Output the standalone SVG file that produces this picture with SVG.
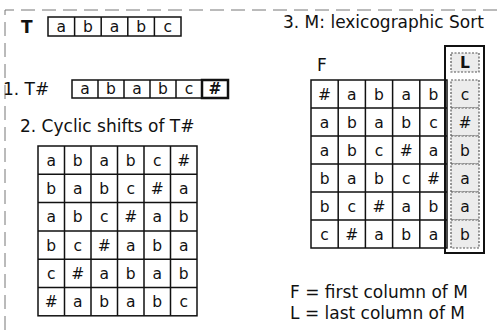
<svg xmlns="http://www.w3.org/2000/svg" width="502" height="330" viewBox="0 0 502 330">
<style>
.c{fill:#fff;stroke:#111;stroke-width:1.5}
.lc{fill:#ececec;stroke:#555;stroke-width:1.2;stroke-dasharray:2 1.5}
.t{font-family:"DejaVu Sans",Verdana,sans-serif;font-size:15.5px;text-anchor:middle;fill:#111}
.h{font-family:"DejaVu Sans",Verdana,sans-serif;font-size:17px;fill:#111}
.b{font-weight:bold}
.frame{fill:none;stroke:#777;stroke-width:1;stroke-dasharray:14 7}
</style>
<path class="frame" d="M5 330 V10 H502"/>
<g id="T">
  <text class="h b" x="21" y="33" font-size="16">T</text>
  <rect class="c" x="48" y="17" width="133" height="19"/>
  <path d="M74.6 17V36M101.2 17V36M127.8 17V36M154.4 17V36" stroke="#111" stroke-width="1.5"/>
  <g class="t"><text x="61.3" y="31.5">a</text><text x="87.9" y="31.5">b</text><text x="114.5" y="31.5">a</text><text x="141.1" y="31.5">b</text><text x="167.7" y="31.5">c</text></g>
</g>
<g id="Thash">
  <text class="h" x="3" y="95" font-size="18.5">1. T#</text>
  <rect class="c" x="72" y="80" width="156" height="18"/>
  <path d="M98 80V98M124 80V98M150 80V98M176 80V98M202 80V98" stroke="#111" stroke-width="1.5"/>
  <rect x="202" y="80" width="26" height="18" fill="none" stroke="#111" stroke-width="2.5"/>
  <g class="t"><text x="85" y="94">a</text><text x="111" y="94">b</text><text x="137" y="94">a</text><text x="163" y="94">b</text><text x="189" y="94">c</text><text x="215" y="94" font-weight="bold">#</text></g>
</g>
<g id="cyclic">
  <text class="h" x="20" y="132">2. Cyclic shifts of T#</text>
  <rect class="c" x="38" y="146" width="159" height="169.8"/>
  <path d="M64.5 146V315.8M91 146V315.8M117.5 146V315.8M144 146V315.8M170.5 146V315.8M38 174.3H197M38 202.6H197M38 230.9H197M38 259.2H197M38 287.5H197" stroke="#111" stroke-width="1.5"/>
  <g class="t">
    <text x="51.25" y="165.6">a</text><text x="77.75" y="165.6">b</text><text x="104.25" y="165.6">a</text><text x="130.75" y="165.6">b</text><text x="157.25" y="165.6">c</text><text x="183.75" y="165.6">#</text>
    <text x="51.25" y="193.9">b</text><text x="77.75" y="193.9">a</text><text x="104.25" y="193.9">b</text><text x="130.75" y="193.9">c</text><text x="157.25" y="193.9">#</text><text x="183.75" y="193.9">a</text>
    <text x="51.25" y="222.2">a</text><text x="77.75" y="222.2">b</text><text x="104.25" y="222.2">c</text><text x="130.75" y="222.2">#</text><text x="157.25" y="222.2">a</text><text x="183.75" y="222.2">b</text>
    <text x="51.25" y="250.5">b</text><text x="77.75" y="250.5">c</text><text x="104.25" y="250.5">#</text><text x="130.75" y="250.5">a</text><text x="157.25" y="250.5">b</text><text x="183.75" y="250.5">a</text>
    <text x="51.25" y="278.8">c</text><text x="77.75" y="278.8">#</text><text x="104.25" y="278.8">a</text><text x="130.75" y="278.8">b</text><text x="157.25" y="278.8">a</text><text x="183.75" y="278.8">b</text>
    <text x="51.25" y="307.1">#</text><text x="77.75" y="307.1">a</text><text x="104.25" y="307.1">b</text><text x="130.75" y="307.1">a</text><text x="157.25" y="307.1">b</text><text x="183.75" y="307.1">c</text>
  </g>
</g>
<g id="M">
  <text class="h" x="283" y="28" font-size="18.5">3. M: lexicographic Sort</text>
  <text class="h" x="317" y="71" font-size="16">F</text>
  <rect class="c" x="311" y="80" width="136" height="168"/>
  <path d="M338.2 80V248M365.4 80V248M392.6 80V248M419.8 80V248M311 108H447M311 136H447M311 164H447M311 192H447M311 220H447" stroke="#111" stroke-width="1.5"/>
  <g class="t">
    <text x="324.6" y="99.5">#</text><text x="351.8" y="99.5">a</text><text x="379" y="99.5">b</text><text x="406.2" y="99.5">a</text><text x="433.4" y="99.5">b</text>
    <text x="324.6" y="127.5">a</text><text x="351.8" y="127.5">b</text><text x="379" y="127.5">a</text><text x="406.2" y="127.5">b</text><text x="433.4" y="127.5">c</text>
    <text x="324.6" y="155.5">a</text><text x="351.8" y="155.5">b</text><text x="379" y="155.5">c</text><text x="406.2" y="155.5">#</text><text x="433.4" y="155.5">a</text>
    <text x="324.6" y="183.5">b</text><text x="351.8" y="183.5">a</text><text x="379" y="183.5">b</text><text x="406.2" y="183.5">c</text><text x="433.4" y="183.5">#</text>
    <text x="324.6" y="211.5">b</text><text x="351.8" y="211.5">c</text><text x="379" y="211.5">#</text><text x="406.2" y="211.5">a</text><text x="433.4" y="211.5">b</text>
    <text x="324.6" y="239.5">c</text><text x="351.8" y="239.5">#</text><text x="379" y="239.5">a</text><text x="406.2" y="239.5">b</text><text x="433.4" y="239.5">a</text>
  </g>
</g>
<g id="L">
  <rect x="445" y="46" width="39" height="207" fill="none" stroke="#111" stroke-width="2"/>
  <rect class="lc" x="451" y="53" width="28" height="19"/>
  <text class="t b" x="465" y="68" font-size="15">L</text>
  <rect class="lc" x="451" y="80" width="28" height="28"/>
  <rect class="lc" x="451" y="108" width="28" height="28"/>
  <rect class="lc" x="451" y="136" width="28" height="28"/>
  <rect class="lc" x="451" y="164" width="28" height="28"/>
  <rect class="lc" x="451" y="192" width="28" height="28"/>
  <rect class="lc" x="451" y="220" width="28" height="28"/>
  <g class="t">
    <text x="465" y="99.5">c</text><text x="465" y="127.5">#</text><text x="465" y="155.5">b</text><text x="465" y="183.5">a</text><text x="465" y="211.5">a</text><text x="465" y="239.5">b</text>
  </g>
</g>
<g id="legend">
  <text class="h" x="290" y="298" font-size="18.5">F = first column of M</text>
  <text class="h" x="290" y="319" font-size="18.5">L = last column of M</text>
</g>
</svg>
